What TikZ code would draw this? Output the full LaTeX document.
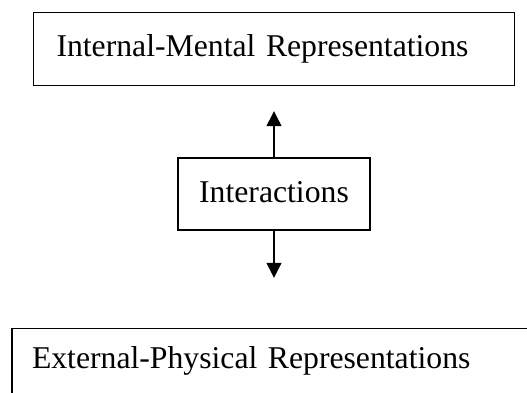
\documentclass[tikz,border=0pt]{standalone}
\usepackage{fontspec}
\setmainfont{Liberation Serif}
\usetikzlibrary{arrows.meta,positioning}

\begin{document}
\begin{tikzpicture}[x=1pt,y=-1pt,->,>={Triangle[width=15pt,length=15pt]},
		every node/.style={font=\fontsize{31.7}{38}\selectfont},
		repbox/.style={draw,-,line width=1.6pt,text height=24pt,text depth=8pt,align=left}]

		\useasboundingbox (0,0) rectangle (527,392);
		\clip (0,0) rectangle (527,392);

		\node[repbox,minimum width=192pt,minimum height=72pt,inner xsep=0pt,align=center] (Inter) at (274,194) {Interactions};
		\node[repbox,text width=435pt,inner xsep=23pt,minimum height=73pt] (Internal) [above=71pt of Inter] {Internal-Mental Representations};
		\node[repbox,text width=484pt,inner xsep=20pt,minimum height=80pt,text depth=24pt] (External) [below=97pt of Inter] {External-Physical Representations};

		\path[line width=1.3pt]
		(Inter) edge[shorten >=25pt] (Internal)
		(Inter) edge[shorten >=50pt] (External);
	\end{tikzpicture}
\end{document}
